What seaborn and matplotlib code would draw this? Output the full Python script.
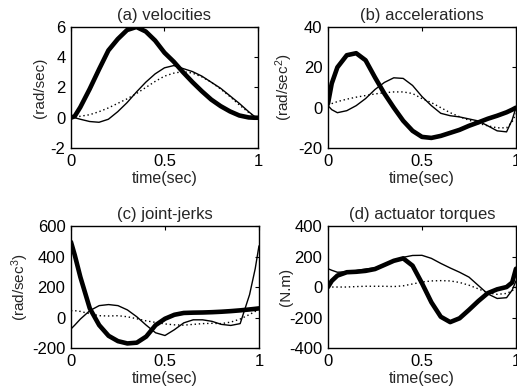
import matplotlib
matplotlib.use("Agg")
import matplotlib.pyplot as plt
import seaborn as sns

# Sample times (sec)
t = [0, 0.02, 0.05, 0.1, 0.15, 0.2, 0.25, 0.3, 0.35, 0.4, 0.45, 0.5,
     0.55, 0.6, 0.65, 0.7, 0.75, 0.8, 0.85, 0.9, 0.95, 0.98, 1.0]

# (a) velocities (rad/sec)
vel_thick = [0, 0.1, 0.7, 1.9, 3.2, 4.45, 5.2, 5.8, 6.0, 5.7, 5.1, 4.3,
             3.7, 3.0, 2.35, 1.75, 1.2, 0.77, 0.42, 0.15, 0.02, 0.0, 0.0]
vel_thin = [0, 0, -0.1, -0.25, -0.3, -0.1, 0.4, 1.0, 1.7, 2.35, 2.9, 3.3,
            3.45, 3.25, 3.05, 2.75, 2.35, 1.95, 1.45, 0.95, 0.4, 0.1, 0]
vel_dot = [0, 0.03, 0.1, 0.2, 0.4, 0.65, 0.95, 1.25, 1.6, 2.0, 2.4, 2.75,
           2.95, 3.05, 2.95, 2.7, 2.35, 1.9, 1.4, 0.85, 0.35, 0.1, 0]

# (b) accelerations (rad/sec^2)
acc_thick = [2, 12, 20, 26, 27, 23.5, 15, 7, 0, -6.5, -11.5, -14.5,
             -15, -14, -12.5, -11, -9, -7.3, -5.5, -4, -2.3, -1, 0]
acc_thin = [1, -1, -2.5, -1.5, 1, 4.5, 9, 12.5, 14.8, 14.5, 11, 5.5,
            1, -2.8, -4, -4.6, -5.6, -6.6, -9, -11.5, -12, -6, 0]
acc_dot = [1, 2, 3, 4.2, 5.2, 6, 6.8, 7.4, 7.8, 7.8, 7, 4.5,
           2.5, 0, -2.5, -4.5, -6.2, -7.8, -9, -10, -10, -7, -3]

# (c) joint-jerks (rad/sec^3)
jerk_thick = [495, 410, 265, 60, -50, -120, -155, -170, -165, -125, -50, -8,
              18, 30, 32, 33, 35, 38, 42, 47, 53, 57, 60]
jerk_thin = [-75, -50, -10, 45, 78, 85, 78, 50, 5, -50, -100, -118,
             -80, -35, -15, -15, -25, -45, -52, -40, 150, 320, 470]
jerk_dot = [45, 45, 40, 25, 12, 10, 12, 5, -8, -22, -32, -42,
            -48, -50, -45, -40, -38, -40, -30, -10, 20, 40, 55]

# (d) actuator torques (N.m)
torq_thick = [0, 40, 75, 97, 100, 106, 118, 145, 172, 188, 140, 25,
              -100, -195, -230, -205, -150, -92, -40, -15, 0, 30, 120]
torq_thin = [120, 110, 97, 100, 108, 118, 125, 150, 175, 195, 207, 208,
             188, 155, 125, 97, 65, 10, -45, -75, -70, -20, 40]
torq_dot = [0, 0, 0, 0, 3, 5, 5, 5, 3, 8, 20, 33,
            40, 42, 40, 30, 12, -12, -38, -48, -42, -25, 0]

titles = ["(a) velocities", "(b) accelerations", "(c) joint-jerks", "(d) actuator torques"]
ylabels = ["(rad/sec)", "(rad/sec$^2$)", "(rad/sec$^3$)", "(N.m)"]
yticks = [[-2, 0, 2, 4, 6], [-20, 0, 20, 40], [-200, 0, 200, 400, 600], [-400, -200, 0, 200, 400]]
series = [(vel_thick, vel_thin, vel_dot), (acc_thick, acc_thin, acc_dot),
          (jerk_thick, jerk_thin, jerk_dot), (torq_thick, torq_thin, torq_dot)]

sns.set_style("white")
plt.rcParams["font.family"] = ["Liberation Sans", "DejaVu Sans"]
plt.rcParams["mathtext.fontset"] = "custom"
plt.rcParams["mathtext.rm"] = "Liberation Sans"
plt.rcParams["mathtext.it"] = "Liberation Sans"
plt.rcParams["axes.unicode_minus"] = False
plt.rcParams["font.size"] = 11

fig = plt.figure(figsize=(5.17, 3.86), dpi=100)
positions = [[0.1373, 0.6166, 0.3617, 0.3135],
             [0.6344, 0.6166, 0.3636, 0.3135],
             [0.1373, 0.0984, 0.3636, 0.3160],
             [0.6344, 0.0984, 0.3636, 0.3160]]
label_x = [-0.13, -0.176, -0.213, -0.186]

for i in range(4):
    ax = fig.add_axes(positions[i])
    thick, thin, dot = series[i]
    sns.lineplot(x=t, y=thin, ax=ax, color="black", linewidth=1.0)
    sns.lineplot(x=t, y=dot, ax=ax, color="black", linewidth=1.0, linestyle=(0, (1, 2)))
    sns.lineplot(x=t, y=thick, ax=ax, color="black", linewidth=3.3)

    ax.set_xlim(0, 1)
    ax.set_ylim(yticks[i][0], yticks[i][-1])
    ax.set_xticks([0, 0.5, 1])
    ax.set_xticklabels(["0", "0.5", "1"])
    ax.set_yticks(yticks[i])
    ax.tick_params(direction="in", top=True, right=True, length=3,
                   labelsize=12, colors="black", pad=4)
    for s in ax.spines.values():
        s.set_color("black")
        s.set_linewidth(1.0)
    ax.set_title(titles[i], fontsize=12, pad=5)
    ax.set_xlabel("time(sec)", fontsize=11.5, labelpad=2)
    ax.set_ylabel(ylabels[i], fontsize=11)
    ax.yaxis.set_label_coords(label_x[i], 0.5)

plt.savefig("out.png", dpi=100)
